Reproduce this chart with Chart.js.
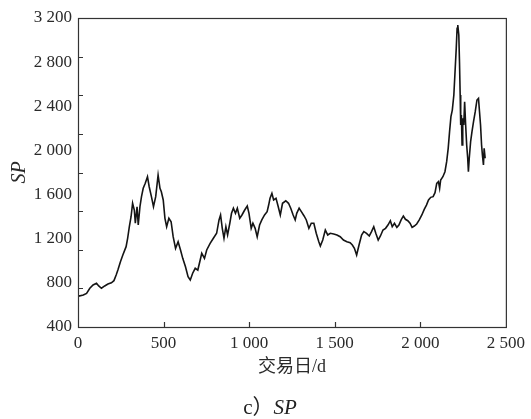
<!DOCTYPE html>
<html>
<head>
<meta charset="utf-8">
<script src="https://cdn.jsdelivr.net/npm/chart.js@4"></script>
<style>
    body { margin: 0; background: #fff; }
    #wrap { position: relative; width: 531px; height: 419px; }
    #caption {
        position: absolute; left: 0; top: 390px; width: 540px;
        text-align: center; font: 21px 'Liberation Serif', 'Noto Sans CJK SC', serif; color: #222;
    }
</style>
</head>
<body>
<div id="wrap">
    <canvas id="chart"></canvas>
    <div id="caption">c）<i>SP</i></div>
</div>
<script>
// trading day index and SP value
var tradeDays = [1, 6, 31, 50, 69, 88, 108, 121, 137, 156, 175, 195, 210, 223, 233, 248, 262, 281, 290, 300, 310,
    319, 329, 335, 345, 352, 362, 371, 381, 393, 406, 416, 429, 441, 454, 468, 479, 487, 498, 508, 518, 531, 544, 556,
    570, 585, 599, 612, 628, 643, 656, 670, 685, 700, 714, 723, 739, 752, 772, 791, 810, 824, 833, 843,
    853, 864, 874, 887, 897, 908, 920, 931, 945, 958, 974, 989, 999, 1012, 1022, 1035, 1047, 1061, 1074, 1090, 1105,
    1114, 1122, 1133, 1143, 1157, 1170, 1182, 1195, 1214, 1230, 1243, 1257, 1269, 1278, 1292, 1305, 1321, 1334, 1349, 1363,
    1378, 1392, 1407, 1416, 1430, 1445, 1459, 1474, 1494, 1513, 1532, 1551, 1571, 1590, 1603, 1615, 1628, 1642, 1657,
    1670, 1686, 1702, 1715, 1728, 1740, 1754, 1767, 1782, 1797, 1811, 1825, 1836, 1849, 1863, 1875, 1888, 1901, 1913, 1927,
    1940, 1952, 1965, 1979, 1994, 2009, 2023, 2036, 2048, 2061, 2075, 2086, 2096, 2106, 2113,
    2119, 2132, 2144, 2154, 2163, 2171, 2179, 2187, 2196, 2202, 2210, 2215, 2219, 2225, 2229, 2233, 2236, 2240, 2244, 2248,
    2254, 2259, 2265, 2271, 2277, 2281, 2286, 2294, 2302, 2311, 2321, 2331, 2340, 2346, 2352, 2358, 2363, 2369, 2373, 2379];

var spValues = [690, 681, 690, 705, 751, 781, 796, 772, 751, 772, 790, 801, 820, 871, 916, 992, 1052, 1128, 1204, 1309, 1399,
    1521, 1460, 1340, 1490, 1324, 1490, 1581, 1657, 1702, 1762, 1671, 1581, 1490, 1581, 1777, 1657, 1626, 1551, 1385, 1309, 1385, 1354, 1218,
    1113, 1173, 1098, 1022, 946, 856, 826, 887, 932, 916, 1007, 1068, 1022, 1098, 1158, 1204, 1249, 1370, 1415, 1294,
    1204, 1309, 1234, 1340, 1430, 1476, 1430, 1476, 1385, 1415, 1460, 1496, 1430, 1294, 1340, 1294, 1218, 1324, 1370, 1415, 1445,
    1505, 1566, 1611, 1551, 1566, 1490, 1415, 1521, 1544, 1521, 1476, 1415, 1370, 1430, 1476, 1445, 1406, 1370, 1294, 1340,
    1340, 1249, 1173, 1134, 1188, 1279, 1234, 1249, 1243, 1234, 1218, 1188, 1173, 1164, 1143, 1113, 1052, 1143, 1234,
    1264, 1249, 1225, 1264, 1309, 1249, 1188, 1225, 1279, 1294, 1324, 1363, 1309, 1340, 1303, 1324, 1370, 1406, 1376, 1363,
    1340, 1303, 1315, 1333, 1370, 1415, 1466, 1505, 1551, 1575, 1581, 1617, 1702, 1717, 1657,
    1732, 1762, 1807, 1898, 2019, 2170, 2306, 2366, 2502, 2683, 2925, 3106, 3136, 3046, 2804, 2502, 2230, 2321, 2049, 2291,
    2230, 2441, 2230, 2049, 1929, 1807, 1929, 2079, 2170, 2260, 2351, 2457, 2472, 2351, 2230, 2049, 1958, 1868, 2019, 1929];

// tick marks sit at their own spacing, labels at 400 steps
var xMarks = [500, 1000, 1500, 2000];
var yMarks = [750, 1100, 1450, 1800, 2150, 2500, 2850];

var serif = "'Liberation Serif', 'Noto Sans CJK SC', serif";
var ink = '#2a2a2a';

function spaced(v) {
    // 2500 -> "2 500"
    var s = String(v);
    if (s.length > 3) s = s.slice(0, s.length - 3) + ' ' + s.slice(-3);
    return s;
}

const frameAndTicks = {
    id: 'frameAndTicks',
    afterDatasetsDraw(chart) {
        var ctx = chart.ctx, a = chart.chartArea;
        var sx = chart.scales.x, sy = chart.scales.y;
        ctx.save();
        ctx.strokeStyle = '#333';
        ctx.lineWidth = 1.2;
        ctx.strokeRect(a.left + 0.5, a.top + 0.5, a.right - a.left, a.bottom - a.top);
        ctx.beginPath();
        xMarks.forEach(function (v) {
            var px = Math.round(sx.getPixelForValue(v)) + 0.5;
            ctx.moveTo(px, a.bottom);
            ctx.lineTo(px, a.bottom - 5);
        });
        yMarks.forEach(function (v) {
            var py = Math.round(sy.getPixelForValue(v)) + 0.5;
            ctx.moveTo(a.left, py);
            ctx.lineTo(a.left + 5, py);
        });
        ctx.stroke();
        ctx.restore();
    }
};

var points = tradeDays.map(function (d, i) { return { x: d, y: spValues[i] }; });

new Chart(document.getElementById('chart'), {
    type: 'line',
    data: {
        datasets: [{
            data: points,
            borderColor: '#141414',
            borderWidth: 1.6,
            pointRadius: 0,
            tension: 0,
            fill: false
        }]
    },
    options: {
        responsive: true,
        maintainAspectRatio: false,
        animation: false,
        layout: { padding: { left: 0, top: 18, right: 21, bottom: 39 } },
        plugins: { legend: { display: false }, tooltip: { enabled: false } },
        scales: {
            x: {
                type: 'linear',
                min: 0,
                max: 2500,
                grid: { display: false, drawTicks: false },
                border: { display: false },
                ticks: {
                    stepSize: 500,
                    maxRotation: 0,
                    padding: 6,
                    color: ink,
                    font: { family: serif, size: 17 },
                    callback: function (v) { return spaced(v); }
                },
                title: {
                    display: true,
                    text: '交易日/d',
                    color: ink,
                    font: { family: serif, size: 18 },
                    padding: { top: 0, bottom: 2 }
                },
                afterFit: function (scale) { scale.height = 53; }
            },
            y: {
                min: 400,
                max: 3200,
                grid: { display: false, drawTicks: false },
                border: { display: false },
                ticks: {
                    stepSize: 400,
                    padding: 6,
                    color: ink,
                    font: { family: serif, size: 17 },
                    callback: function (v) { return spaced(v); }
                },
                title: {
                    display: true,
                    text: 'SP',
                    color: ink,
                    font: { family: serif, size: 20, style: 'italic' },
                    padding: { top: 8, bottom: 0 }
                },
                afterFit: function (scale) { scale.width = 78; }
            }
        }
    },
    plugins: [frameAndTicks]
});
</script>
</body>
</html>
